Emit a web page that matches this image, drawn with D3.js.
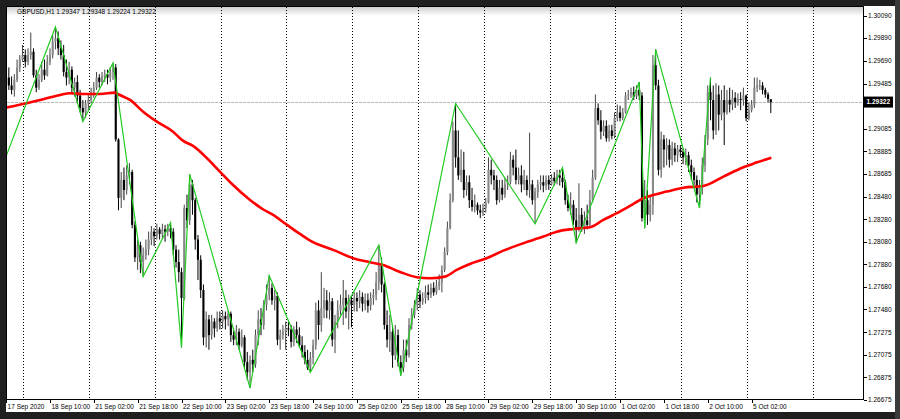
<!DOCTYPE html>
<html><head><meta charset="utf-8">
<script src="https://cdn.jsdelivr.net/npm/d3@7"></script>
<style>
html,body{margin:0;padding:0;background:#1f1f1f;overflow:hidden;}
svg{display:block;}
text{font-family:"Liberation Sans",Arial,sans-serif;}
</style></head><body>
<svg id="c" width="900" height="419"></svg>
<script>
// ---------------- DATA ----------------
const title = "GBPUSD,H1  1.29347 1.29348 1.29224 1.29322";
const lastPrice = 1.29322;
const lastPriceLabel = "1.29322";

const opens = [
1.2947,1.2954,1.2947,1.2943,1.2952,1.2963,1.2970,1.2974,1.2968,1.2974,
1.2977,1.2956,1.2945,1.2952,1.2961,1.2956,1.2968,1.2974,1.2986,1.2989,
1.2980,1.2974,1.2959,1.2954,1.2961,1.2945,1.2950,1.2938,1.2927,1.2923,
1.2931,1.2934,1.2941,1.2945,1.2954,1.2950,1.2955,1.2957,1.2954,1.2959,
1.2963,1.2899,1.2847,1.2863,1.2854,1.2867,1.2870,1.2823,1.2794,1.2805,
1.2790,1.2796,1.2801,1.2810,1.2817,1.2813,1.2819,1.2815,1.2819,1.2817,
1.2820,1.2817,1.2801,1.2790,1.2781,1.2758,1.2838,1.2827,1.2859,1.2845,
1.2810,1.2792,1.2765,1.2723,1.2739,1.2725,1.2737,1.2731,1.2740,1.2737,
1.2742,1.2739,1.2744,1.2725,1.2721,1.2728,1.2716,1.2723,1.2701,1.2692,
1.2703,1.2699,1.2725,1.2739,1.2734,1.2752,1.2761,1.2767,1.2756,1.2760,
1.2721,1.2725,1.2728,1.2731,1.2730,1.2719,1.2730,1.2725,1.2716,1.2710,
1.2703,1.2696,1.2705,1.2716,1.2747,1.2734,1.2749,1.2756,1.2747,1.2755,
1.2721,1.2737,1.2747,1.2752,1.2758,1.2746,1.2756,1.2752,1.2758,1.2755,
1.2759,1.2753,1.2756,1.2751,1.2758,1.2761,1.2772,1.2787,1.2770,1.2734,
1.2721,1.2728,1.2707,1.2725,1.2701,1.2696,1.2712,1.2707,1.2734,1.2743,
1.2752,1.2761,1.2755,1.2758,1.2763,1.2761,1.2767,1.2763,1.2769,1.2772,
1.2783,1.2799,1.2820,1.2845,1.2907,1.2883,1.2867,1.2872,1.2854,1.2861,
1.2845,1.2839,1.2841,1.2836,1.2834,1.2838,1.2843,1.2872,1.2867,1.2863,
1.2845,1.2856,1.2850,1.2859,1.2861,1.2881,1.2874,1.2863,1.2867,1.2859,
1.2863,1.2854,1.2859,1.2845,1.2852,1.2859,1.2861,1.2858,1.2863,1.2859,
1.2865,1.2862,1.2867,1.2865,1.2861,1.2845,1.2838,1.2841,1.2827,1.2820,
1.2832,1.2820,1.2827,1.2823,1.2845,1.2865,1.2927,1.2916,1.2906,1.2911,
1.2900,1.2907,1.2902,1.2918,1.2923,1.2918,1.2923,1.2938,1.2939,1.2941,
1.2937,1.2943,1.2938,1.2829,1.2845,1.2832,1.2841,1.2965,1.2947,1.2872,
1.2899,1.2890,1.2894,1.2881,1.2891,1.2885,1.2890,1.2888,1.2883,1.2885,
1.2876,1.2870,1.2863,1.2850,1.2856,1.2876,1.2899,1.2941,1.2934,1.2907,
1.2939,1.2921,1.2934,1.2923,1.2934,1.2930,1.2936,1.2932,1.2935,1.2934,
1.2938,1.2918,1.2925,1.2930,1.2945,1.2947,1.2947,1.2943,1.2939,1.29347];

const highs = [
1.2961,1.2963,1.2955,1.2957,1.2970,1.2974,1.2983,1.2979,1.2980,1.2994,
1.2980,1.2961,1.2957,1.2968,1.2970,1.2974,1.2980,1.2992,1.2999,1.2995,
1.2987,1.2983,1.2970,1.2968,1.2964,1.2954,1.2956,1.2943,1.2934,1.2934,
1.2939,1.2945,1.2950,1.2959,1.2957,1.2959,1.2961,1.2961,1.2963,1.2967,
1.2966,1.2900,1.2870,1.2874,1.2876,1.2878,1.2872,1.2826,1.2810,1.2808,
1.2803,1.2810,1.2817,1.2822,1.2820,1.2824,1.2821,1.2824,1.2823,1.2824,
1.2825,1.2820,1.2805,1.2801,1.2785,1.2841,1.2850,1.2868,1.2863,1.2847,
1.2814,1.2796,1.2770,1.2746,1.2743,1.2743,1.2740,1.2746,1.2746,1.2747,
1.2746,1.2747,1.2746,1.2731,1.2734,1.2731,1.2730,1.2725,1.2710,1.2707,
1.2712,1.2730,1.2747,1.2749,1.2756,1.2770,1.2778,1.2771,1.2765,1.2763,
1.2730,1.2734,1.2737,1.2737,1.2734,1.2733,1.2737,1.2732,1.2724,1.2716,
1.2712,1.2710,1.2721,1.2754,1.2756,1.2781,1.2767,1.2765,1.2763,1.2758,
1.2743,1.2756,1.2761,1.2774,1.2765,1.2761,1.2760,1.2763,1.2763,1.2765,
1.2763,1.2762,1.2762,1.2763,1.2766,1.2781,1.2805,1.2794,1.2772,1.2747,
1.2743,1.2734,1.2734,1.2730,1.2707,1.2721,1.2721,1.2740,1.2749,1.2756,
1.2767,1.2765,1.2763,1.2769,1.2770,1.2771,1.2772,1.2774,1.2779,1.2787,
1.2803,1.2826,1.2851,1.2915,1.2931,1.2907,1.2890,1.2888,1.2867,1.2867,
1.2856,1.2850,1.2843,1.2841,1.2842,1.2847,1.2883,1.2881,1.2872,1.2867,
1.2863,1.2863,1.2865,1.2867,1.2888,1.2885,1.2890,1.2874,1.2876,1.2872,
1.2867,1.2905,1.2863,1.2856,1.2863,1.2867,1.2867,1.2867,1.2867,1.2868,
1.2870,1.2872,1.2872,1.2874,1.2863,1.2850,1.2852,1.2845,1.2838,1.2860,
1.2838,1.2835,1.2841,1.2854,1.2872,1.2939,1.2931,1.2925,1.2916,1.2916,
1.2912,1.2912,1.2923,1.2930,1.2929,1.2927,1.2941,1.2943,1.2945,1.2946,
1.2947,1.2950,1.2941,1.2863,1.2854,1.2850,1.2974,1.2979,1.2952,1.2906,
1.2903,1.2900,1.2899,1.2897,1.2896,1.2894,1.2894,1.2891,1.2891,1.2888,
1.2881,1.2874,1.2867,1.2863,1.2883,1.2903,1.2947,1.2954,1.2947,1.2949,
1.2947,1.2943,1.2947,1.2943,1.2945,1.2943,1.2941,1.2940,1.2941,1.2945,
1.2939,1.2932,1.2934,1.2954,1.2954,1.2952,1.2950,1.2945,1.2941,1.29348];

const lows = [
1.2941,1.2943,1.2939,1.2937,1.2950,1.2959,1.2968,1.2963,1.2965,1.2970,
1.2954,1.2941,1.2943,1.2950,1.2952,1.2955,1.2965,1.2971,1.2979,1.2974,
1.2970,1.2955,1.2947,1.2948,1.2940,1.2937,1.2931,1.2923,1.2915,1.2918,
1.2925,1.2931,1.2936,1.2943,1.2945,1.2947,1.2950,1.2948,1.2950,1.2952,
1.2897,1.2836,1.2838,1.2845,1.2850,1.2859,1.2820,1.2790,1.2783,1.2780,
1.2777,1.2792,1.2796,1.2805,1.2804,1.2810,1.2810,1.2811,1.2808,1.2813,
1.2811,1.2796,1.2785,1.2772,1.2714,1.2756,1.2820,1.2823,1.2832,1.2801,
1.2774,1.2758,1.2716,1.2714,1.2712,1.2721,1.2723,1.2728,1.2730,1.2731,
1.2730,1.2733,1.2719,1.2716,1.2716,1.2712,1.2714,1.2696,1.2685,1.2678,
1.2692,1.2696,1.2716,1.2725,1.2730,1.2747,1.2756,1.2752,1.2747,1.2716,
1.2712,1.2721,1.2712,1.2724,1.2714,1.2715,1.2718,1.2714,1.2705,1.2699,
1.2694,1.2692,1.2699,1.2712,1.2721,1.2728,1.2740,1.2740,1.2739,1.2715,
1.2709,1.2731,1.2743,1.2734,1.2740,1.2730,1.2732,1.2746,1.2746,1.2749,
1.2746,1.2747,1.2745,1.2747,1.2752,1.2756,1.2765,1.2763,1.2730,1.2714,
1.2710,1.2696,1.2703,1.2697,1.2689,1.2692,1.2701,1.2705,1.2730,1.2740,
1.2747,1.2749,1.2752,1.2753,1.2756,1.2758,1.2760,1.2761,1.2765,1.2763,
1.2781,1.2796,1.2819,1.2843,1.2874,1.2863,1.2861,1.2847,1.2849,1.2838,
1.2835,1.2834,1.2832,1.2829,1.2831,1.2834,1.2842,1.2859,1.2854,1.2841,
1.2843,1.2845,1.2847,1.2854,1.2859,1.2867,1.2859,1.2859,1.2852,1.2854,
1.2849,1.2847,1.2841,1.2824,1.2847,1.2854,1.2852,1.2854,1.2854,1.2858,
1.2858,1.2859,1.2858,1.2856,1.2841,1.2835,1.2832,1.2823,1.2807,1.2817,
1.2817,1.2815,1.2819,1.2820,1.2843,1.2863,1.2912,1.2899,1.2902,1.2897,
1.2897,1.2899,1.2900,1.2915,1.2915,1.2916,1.2922,1.2934,1.2936,1.2934,
1.2935,1.2934,1.2826,1.2820,1.2823,1.2826,1.2832,1.2943,1.2867,1.2865,
1.2874,1.2876,1.2874,1.2876,1.2879,1.2879,1.2883,1.2877,1.2876,1.2870,
1.2863,1.2858,1.2843,1.2838,1.2850,1.2870,1.2894,1.2916,1.2899,1.2903,
1.2907,1.2916,1.2894,1.2921,1.2923,1.2925,1.2927,1.2929,1.2925,1.2929,
1.2915,1.2916,1.2923,1.2927,1.2941,1.2943,1.2939,1.2936,1.2932,1.29224];

const closes = [
1.2954,1.2947,1.2943,1.2952,1.2963,1.2970,1.2974,1.2968,1.2974,1.2977,
1.2956,1.2945,1.2952,1.2961,1.2956,1.2968,1.2974,1.2986,1.2989,1.2980,
1.2974,1.2959,1.2954,1.2961,1.2945,1.2950,1.2938,1.2927,1.2923,1.2931,
1.2934,1.2941,1.2945,1.2954,1.2950,1.2955,1.2957,1.2954,1.2959,1.2963,
1.2899,1.2847,1.2863,1.2854,1.2867,1.2870,1.2823,1.2794,1.2805,1.2790,
1.2796,1.2801,1.2810,1.2817,1.2813,1.2819,1.2815,1.2819,1.2817,1.2820,
1.2817,1.2801,1.2790,1.2781,1.2758,1.2838,1.2827,1.2859,1.2845,1.2810,
1.2792,1.2765,1.2723,1.2739,1.2725,1.2737,1.2731,1.2740,1.2737,1.2742,
1.2739,1.2744,1.2725,1.2721,1.2728,1.2716,1.2723,1.2701,1.2692,1.2703,
1.2699,1.2725,1.2739,1.2734,1.2752,1.2761,1.2767,1.2756,1.2760,1.2721,
1.2725,1.2728,1.2731,1.2730,1.2719,1.2730,1.2725,1.2716,1.2710,1.2703,
1.2696,1.2705,1.2716,1.2747,1.2734,1.2749,1.2756,1.2747,1.2755,1.2721,
1.2737,1.2747,1.2752,1.2758,1.2746,1.2756,1.2752,1.2758,1.2755,1.2759,
1.2753,1.2756,1.2751,1.2758,1.2761,1.2772,1.2787,1.2770,1.2734,1.2721,
1.2728,1.2707,1.2725,1.2701,1.2696,1.2712,1.2707,1.2734,1.2743,1.2752,
1.2761,1.2755,1.2758,1.2763,1.2761,1.2767,1.2763,1.2769,1.2772,1.2783,
1.2799,1.2820,1.2845,1.2907,1.2883,1.2867,1.2872,1.2854,1.2861,1.2845,
1.2839,1.2841,1.2836,1.2834,1.2838,1.2843,1.2872,1.2867,1.2863,1.2845,
1.2856,1.2850,1.2859,1.2861,1.2881,1.2874,1.2863,1.2867,1.2859,1.2863,
1.2854,1.2859,1.2845,1.2852,1.2859,1.2861,1.2858,1.2863,1.2859,1.2865,
1.2862,1.2867,1.2865,1.2861,1.2845,1.2838,1.2841,1.2827,1.2820,1.2832,
1.2820,1.2827,1.2823,1.2845,1.2865,1.2927,1.2916,1.2906,1.2911,1.2900,
1.2907,1.2902,1.2918,1.2923,1.2918,1.2923,1.2938,1.2939,1.2941,1.2937,
1.2943,1.2938,1.2829,1.2845,1.2832,1.2841,1.2965,1.2947,1.2872,1.2899,
1.2890,1.2894,1.2881,1.2891,1.2885,1.2890,1.2888,1.2883,1.2885,1.2876,
1.2870,1.2863,1.2850,1.2856,1.2876,1.2899,1.2941,1.2934,1.2907,1.2939,
1.2921,1.2934,1.2923,1.2934,1.2930,1.2936,1.2932,1.2935,1.2934,1.2938,
1.2918,1.2925,1.2930,1.2945,1.2947,1.2947,1.2943,1.2939,1.2935,1.29322];

// Moving average (red) read at bar positions
const maIndex = [0,7.5,13.5,19.7,23.3,28,34.3,39.7,41.5,45.2,50,55,60.9,64.5,68.2,73.3,78,82.8,89,93.7,97.4,102.5,107.2,112,119.3,126.6,132.8,137.5,143.7,149.8,154.6,160.1,164.4,169.2,175.3,181.4,188.7,196,200.9,207,213,217.9,222.8,227.6,232.5,236.1,241,247.1,254.4,261.7,269,273.7,279.2];
const maValues = [1.29273,1.29312,1.29347,1.29385,1.29401,1.29394,1.29394,1.29406,1.29385,1.29341,1.29237,1.29148,1.29059,1.28979,1.28932,1.28823,1.28704,1.28585,1.28452,1.28369,1.28319,1.28230,1.28150,1.28076,1.28008,1.27934,1.27898,1.27874,1.27812,1.27765,1.27756,1.27770,1.27830,1.27883,1.27934,1.28001,1.28067,1.28126,1.28170,1.28194,1.28209,1.28274,1.28334,1.28399,1.28467,1.28496,1.28526,1.28561,1.28576,1.28659,1.28743,1.28784,1.28828];

// ZigZag pivots (green)
const zzIndex = [0,18,28,39,50,60,64,67,89,96,111,136,144,164,193,203,208,231,233,237,253,257];
const zzValues = [1.2884,1.2999,1.2915,1.2967,1.2777,1.2825,1.2714,1.2868,1.2678,1.2778,1.2692,1.2805,1.2689,1.2931,1.2824,1.2874,1.2807,1.2950,1.2820,1.2979,1.2838,1.2954];

// Axis labels (1.29285 sits under the current-price box)
const yTicks = [1.30090,1.29890,1.29690,1.29485,1.29285,1.29085,1.28885,1.28685,1.28480,1.28280,1.28080,1.27880,1.27680,1.27480,1.27275,1.27075,1.26875,1.26675];
const yTickLabels = ["1.30090","1.29890","1.29690","1.29485","","1.29085","1.28885","1.28685","1.28480","1.28280","1.28080","1.27880","1.27680","1.27480","1.27275","1.27075","1.26875","1.26675"];
const xLabels = ["17 Sep 2020","18 Sep 10:00","21 Sep 02:00","21 Sep 18:00","22 Sep 10:00","23 Sep 02:00","23 Sep 18:00","24 Sep 10:00","25 Sep 02:00","25 Sep 18:00","28 Sep 10:00","29 Sep 02:00","29 Sep 18:00","30 Sep 10:00","1 Oct 02:00","1 Oct 18:00","2 Oct 10:00","5 Oct 02:00"];
const xLabelIndex = [0,16,32,48,64,80,96,112,128,144,160,176,192,208,224,240,256,272];
const gridIndex = [6.3,30.3,54.3,78.3,102.3,126.3,150.3,174.3,198.3,222.3,246.3,270.3,294.3];

// ---------------- DRAW ----------------
const PL = 7, PR = 863, PT = 7, PB = 399;
const svg = d3.select("#c");
const x = d3.scaleLinear().domain([0, 279]).range([6.1, 770.8]);
const y = d3.scaleLinear().domain([1.26675, 1.30090]).range([399.8, 15.7]);

const defs = svg.append("defs");
const lg = defs.append("linearGradient").attr("id","tg").attr("x1",0).attr("y1",0).attr("x2",0).attr("y2",1);
lg.append("stop").attr("offset","0").attr("stop-color","#cfcfcf");
lg.append("stop").attr("offset","1").attr("stop-color","#ffffff");
defs.append("clipPath").attr("id","clip").append("rect")
  .attr("x",PL).attr("y",PT).attr("width",PR-PL).attr("height",PB-PT);

// white window
svg.append("rect").attr("x",6).attr("y",6).attr("width",889).attr("height",406).attr("fill","#fff");
svg.append("rect").attr("x",895).attr("y",0).attr("width",5).attr("height",419).attr("fill","#3a3a3a");
svg.append("rect").attr("x",PL).attr("y",PT).attr("width",PR-PL).attr("height",9).attr("fill","url(#tg)");

const g = svg.append("g").attr("clip-path","url(#clip)");

// grid
g.selectAll("line.grid").data(gridIndex).join("line").attr("class","grid")
  .attr("x1",d=>Math.round(x(d))+0.5).attr("x2",d=>Math.round(x(d))+0.5)
  .attr("y1",PT).attr("y2",PB)
  .attr("stroke","#000").attr("stroke-width",1).attr("stroke-dasharray","1,2")
  .attr("shape-rendering","crispEdges");

// current price line
g.append("line").attr("x1",PL).attr("x2",PR)
  .attr("y1",Math.round(y(lastPrice))+0.5).attr("y2",Math.round(y(lastPrice))+0.5)
  .attr("stroke","#b8b8b8").attr("stroke-width",1).attr("stroke-dasharray","3,1")
  .attr("shape-rendering","crispEdges");

// candles
const idx = d3.range(closes.length);
const bw = 2.1;
const cg = g.append("g");
cg.selectAll("line.wick").data(idx).join("line").attr("class","wick")
  .attr("x1",i=>x(i)).attr("x2",i=>x(i))
  .attr("y1",i=>y(highs[i])).attr("y2",i=>y(lows[i]))
  .attr("stroke",i=>closes[i]>=opens[i]?"#444":"#000")
  .attr("stroke-width",1);
cg.selectAll("rect.body").data(idx).join("rect").attr("class","body")
  .attr("x",i=>x(i)-bw/2).attr("width",bw)
  .attr("y",i=>Math.min(y(opens[i]),y(closes[i])))
  .attr("height",i=>Math.max(0.9,Math.abs(y(opens[i])-y(closes[i]))))
  .attr("fill",i=>closes[i]>=opens[i]?"#888":"#000");

// moving average
const maPts = maIndex.map((d,k)=>[d,maValues[k]]);
g.append("path").datum(maPts)
  .attr("d",d3.line().x(d=>x(d[0])).y(d=>y(d[1])).curve(d3.curveMonotoneX))
  .attr("fill","none").attr("stroke","#ff0000").attr("stroke-width",2.6)
  .attr("stroke-linejoin","round");

// zigzag
const zzPts = zzIndex.map((d,k)=>[d,zzValues[k]]);
g.append("path").datum(zzPts)
  .attr("d",d3.line().x(d=>x(d[0])).y(d=>y(d[1])))
  .attr("fill","none").attr("stroke","#22cc22").attr("stroke-width",1.2);

// frame
svg.append("rect").attr("x",6.5).attr("y",6.5).attr("width",PR-6).attr("height",PB-6)
  .attr("fill","none").attr("stroke","#000").attr("stroke-width",1).attr("shape-rendering","crispEdges");

// y axis
const ya = svg.append("g");
ya.selectAll("line").data(yTicks).join("line")
  .attr("x1",PR+0.5).attr("x2",PR+3.5)
  .attr("y1",d=>Math.round(y(d))+0.5).attr("y2",d=>Math.round(y(d))+0.5)
  .attr("stroke","#000").attr("shape-rendering","crispEdges");
ya.selectAll("text").data(yTicks.filter((d,k)=>yTickLabels[k]!=="")).join("text")
  .attr("x",PR+5).attr("y",d=>y(d)).attr("dy","0.35em")
  .attr("font-size",6.5).attr("fill","#000")
  .text(d=>yTickLabels[yTicks.indexOf(d)]);

// price box
const py = y(lastPrice);
svg.append("rect").attr("x",PR+1).attr("y",py-5.5).attr("width",29).attr("height",11).attr("fill","#000");
svg.append("text").attr("x",PR+3.5).attr("y",py).attr("dy","0.35em")
  .attr("font-size",6.5).attr("font-weight","bold").attr("fill","#fff").text(lastPriceLabel);

// x axis
const xa = svg.append("g");
xa.selectAll("line").data(xLabelIndex).join("line")
  .attr("x1",d=>Math.round(x(d))+0.5).attr("x2",d=>Math.round(x(d))+0.5)
  .attr("y1",PB+0.5).attr("y2",PB+4)
  .attr("stroke","#000").attr("shape-rendering","crispEdges");
xa.selectAll("text").data(xLabelIndex).join("text")
  .attr("x",d=>Math.max(7,x(d)+1.5)).attr("y",PB+9.5)
  .attr("font-size",6.5).attr("fill","#000")
  .text((d,k)=>xLabels[k]);

// title
svg.append("text").attr("x",17).attr("y",14).attr("font-size",6.5).attr("fill","#000").text(title);
</script>
</body></html>
